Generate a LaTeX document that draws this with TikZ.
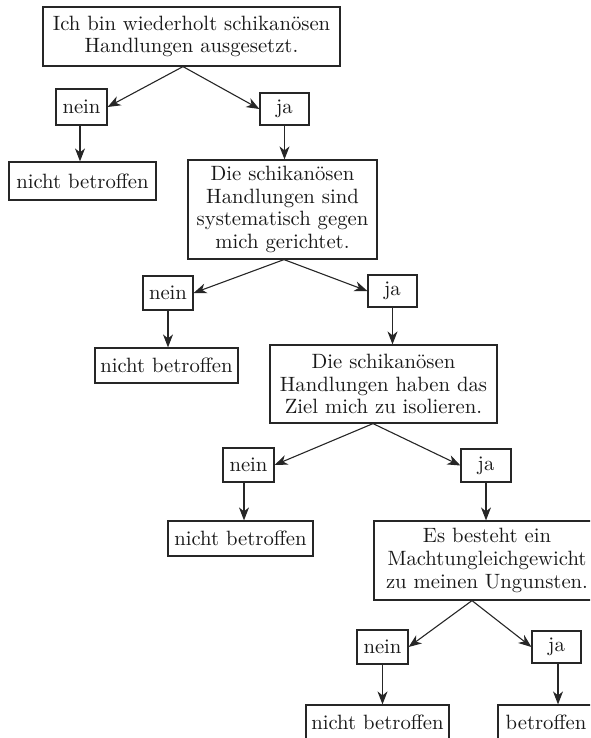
\documentclass[tikz,border=0pt]{standalone}
\usepackage{fontspec}
\setmainfont{lmroman10-regular.otf}
\usetikzlibrary{arrows.meta}
\begin{document}
\begin{tikzpicture}[x=1pt,y=-1pt,
  box/.style={draw=black!85,line width=1.2pt,inner sep=0pt,align=center,
    font=\fontsize{20.7}{22.8}\selectfont,text=black!90},
  arr/.style={draw=black!85,line width=1.1pt,-{Stealth[length=13pt,width=10pt,inset=4pt]}}]
\useasboundingbox (0,0) rectangle (590,738);
\clip (0,0) rectangle (590,738);
% question boxes
\node[box,minimum width=297pt,minimum height=59pt] (b1) at (191.5,36.5)
  {Ich bin wiederholt schikanösen\\Handlungen ausgesetzt.};
\node[box,minimum width=189pt,minimum height=99pt] (b2) at (282.5,209.5)
  {Die schikanösen\\Handlungen sind\\systematisch gegen\\mich gerichtet.};
\node[box,minimum width=227pt,minimum height=78pt] (b3) at (383.5,384)
  {Die schikanösen\\Handlungen haben das\\Ziel mich zu isolieren.};
\node[box,minimum width=226pt,minimum height=79pt] (b4) at (487,560.5)
  {Es besteht ein\\Machtungleichgewicht\\zu meinen Ungunsten.};
% nein / ja
\node[box,minimum width=51pt,minimum height=36pt] (n1) at (81.5,107) {nein};
\node[box,minimum width=49pt,minimum height=32pt] (j1) at (284.5,109) {ja};
\node[box,minimum width=50pt,minimum height=34pt] (n2) at (168,293) {nein};
\node[box,minimum width=49pt,minimum height=32pt] (j2) at (392.5,291) {ja};
\node[box,minimum width=51pt,minimum height=34pt] (n3) at (248.5,465) {nein};
\node[box,minimum width=50pt,minimum height=33pt] (j3) at (486,465.5) {ja};
\node[box,minimum width=51pt,minimum height=34pt] (n4) at (382.5,647) {nein};
\node[box,minimum width=49pt,minimum height=32pt] (j4) at (556.5,647) {ja};
% results
\node[box,minimum width=147pt,minimum height=38pt] (r1) at (82.5,181) {nicht betroffen};
\node[box,minimum width=143pt,minimum height=35pt] (r2) at (166.5,365.5) {nicht betroffen};
\node[box,minimum width=145pt,minimum height=35pt] (r3) at (240.5,538.5) {nicht betroffen};
\node[box,minimum width=143pt,minimum height=35pt] (r4) at (377.5,722.5) {nicht betroffen};
\node[box,minimum width=96pt,minimum height=35pt] (r5) at (546,722.5) {betroffen};
% connectors
\draw[arr] ([xshift=-8.5pt]b1.south) -- (n1.east);
\draw[arr] ([xshift=-8.5pt]b1.south) -- (j1.west);
\draw[arr] ([xshift=1.5pt]b2.south) -- (n2.east);
\draw[arr] ([xshift=1.5pt]b2.south) -- (j2.west);
\draw[arr] ([xshift=-10.5pt]b3.south) -- (n3.east);
\draw[arr] ([xshift=-10.5pt]b3.south) -- (j3.west);
\draw[arr] ([xshift=-15pt]b4.south) -- (n4.east);
\draw[arr] ([xshift=-15pt]b4.south) -- (j4.west);
\draw[arr] ([xshift=-1.5pt]n1.south) -- ([xshift=-1.5pt]n1.south |- r1.north);
\draw[arr] (j1.south) -- (j1.south |- b2.north);
\draw[arr] (n2.south) -- (n2.south |- r2.north);
\draw[arr] (j2.south) -- (j2.south |- b3.north);
\draw[arr] ([xshift=-4.5pt]n3.south) -- ([xshift=-4.5pt]n3.south |- r3.north);
\draw[arr] (j3.south) -- (j3.south |- b4.north);
\draw[arr] (n4.south) -- (n4.south |- r4.north);
\draw[arr] ([xshift=1.5pt]j4.south) -- ([xshift=1.5pt]j4.south |- r5.north);
\end{tikzpicture}
\end{document}
